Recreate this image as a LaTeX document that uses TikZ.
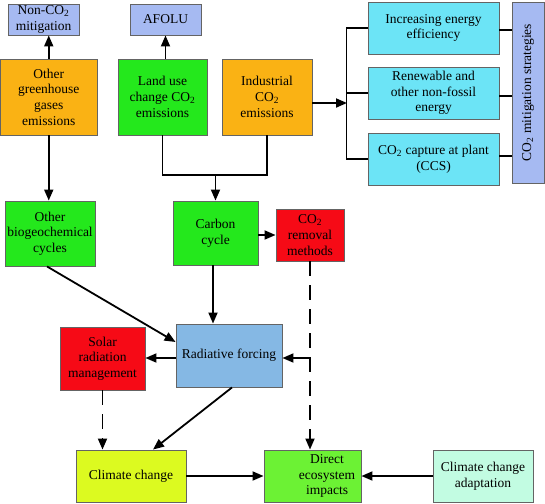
\documentclass[tikz,border=0pt]{standalone}
\usepackage{fontspec}
\setmainfont{Liberation Serif}
\usetikzlibrary{arrows.meta}
\definecolor{lblue}{RGB}{166,186,242}
\definecolor{orng}{RGB}{250,178,20}
\definecolor{grn}{RGB}{36,232,28}
\definecolor{cyn}{RGB}{108,228,246}
\definecolor{rd}{RGB}{246,10,22}
\definecolor{radb}{RGB}{133,184,228}
\definecolor{ylg}{RGB}{220,250,32}
\definecolor{bgrn}{RGB}{108,242,52}
\definecolor{mint}{RGB}{194,252,226}
\definecolor{bord}{RGB}{100,100,100}
\tikzset{
  box/.style={draw=bord, line width=0.9pt, inner sep=0pt, align=center,
    font=\fontsize{13.5}{15.7}\selectfont},
  conn/.style={line width=1.8pt, black},
  arr/.style={conn, -{Triangle[length=11pt,width=9pt]}},
  dsh/.style={dash pattern=on 15pt off 9pt},
}
\newcommand{\cotwo}{CO\textsubscript{2}}
\begin{document}
\begin{tikzpicture}[x=1pt,y=-1pt]
\useasboundingbox (0,0) rectangle (545,503);
% top row
\node[box, fill=lblue, minimum width=71, minimum height=31] (noncomit) at (43.5,19.5) {Non-\cotwo\\mitigation};
\node[box, fill=lblue, minimum width=71, minimum height=31] (afolu) at (165.5,19.5) {AFOLU};
\node[box, fill=orng, minimum width=96.5, minimum height=76] (ghg) at (48.75,97) {Other\\greenhouse\\gases\\emissions};
\node[box, fill=grn, minimum width=89, minimum height=76] (landuse) at (162.5,97) {Land use\\change \cotwo\\emissions};
\node[box, fill=orng, minimum width=90, minimum height=76] (industrial) at (267,97) {Industrial\\\cotwo\\emissions};
\node[box, fill=cyn, minimum width=131, minimum height=52] (eff) at (433.5,28) {Increasing energy\\efficiency};
\node[box, fill=cyn, minimum width=131, minimum height=52] (renew) at (433.5,93) {Renewable and\\other non-fossil\\energy};
\node[box, fill=cyn, minimum width=131, minimum height=52] (ccs) at (433.5,159) {\cotwo{} capture at plant\\(CCS)};
\node[box, fill=lblue, minimum width=181, minimum height=32, rotate=90] (mitig) at (528,92.5) {\cotwo{} mitigation strategies};
% middle
\node[box, fill=grn, minimum width=90, minimum height=65] (biogeo) at (50,233.5) {Other\\biogeochemical\\cycles};
\node[box, fill=grn, minimum width=85, minimum height=64] (carbon) at (215.5,233) {Carbon\\cycle};
\node[box, fill=rd, minimum width=68, minimum height=52] (removal) at (310,235) {\cotwo\\removal\\methods};
\node[box, fill=radb, minimum width=106, minimum height=63] (radiative) at (229,355.5) {Radiative forcing};
\node[box, fill=rd, minimum width=85, minimum height=63] (solar) at (102.5,358.5) {Solar\\radiation\\management};
% bottom
\node[box, fill=ylg, minimum width=110, minimum height=52] (climate) at (131,476) {Climate change};
\node[box, fill=bgrn, minimum width=97, minimum height=52] (direct) at (312.5,476) {};
\node[box, draw=none] (directtxt) at (327,476) {Direct\\ecosystem\\impacts};
\node[box, fill=mint, minimum width=100, minimum height=52] (adapt) at (483,476) {Climate change\\adaptation};
% coordinates
\coordinate (jl) at (landuse.south |- 0,175);
\coordinate (jc) at (carbon.north |- 0,175);
\coordinate (bk) at (347,103);
\coordinate (rj) at (removal.south |- 0,358);
% connectors
\draw[arr] (ghg.north) -- (ghg.north |- noncomit.south);
\draw[arr] (afolu.south |- landuse.north) -- (afolu.south);
\draw[conn] (landuse.south) -- (jl) -| (industrial.south);
\draw[arr] (jc) -- (carbon.north);
\draw[arr] (ghg.south) -- (ghg.south |- biogeo.north);
\draw[arr] (industrial.east |- bk) -- (bk);
\draw[conn] (eff.west) -- ++(-21,0) |- (ccs.west);
\draw[conn] (renew.west) -- ++(-21,0);
\draw[conn] ([yshift=-2]eff.east) -- ([yshift=-2]eff.east -| mitig.north);
\draw[conn] ([yshift=-3]renew.east) -- ([yshift=-3]renew.east -| mitig.north);
\draw[conn] ([yshift=3]ccs.east) -- ([yshift=3]ccs.east -| mitig.north);
\draw[arr] (carbon.east |- removal.west) -- (removal.west);
\draw[arr] ([xshift=-2.5]carbon.south) -- ([xshift=-2.5]carbon.south |- radiative.north);
\draw[arr] ([xshift=-3]biogeo.south) -- ([yshift=13.5]radiative.west);
\draw[arr] ([yshift=-2.5]radiative.west) -- ([yshift=-2.5]radiative.west -| solar.east);
\draw[arr, dsh] (removal.south) -- (removal.south |- direct.north);
\draw[arr] (rj) -- (rj -| radiative.east);
\draw[arr, dsh] (solar.south) -- (solar.south |- climate.north);
\draw[arr] ([xshift=3]radiative.south) -- ([xshift=22]climate.north);
\draw[arr] (climate.east) -- (direct.west);
\draw[arr] (adapt.west) -- (direct.east);
\end{tikzpicture}
\end{document}
